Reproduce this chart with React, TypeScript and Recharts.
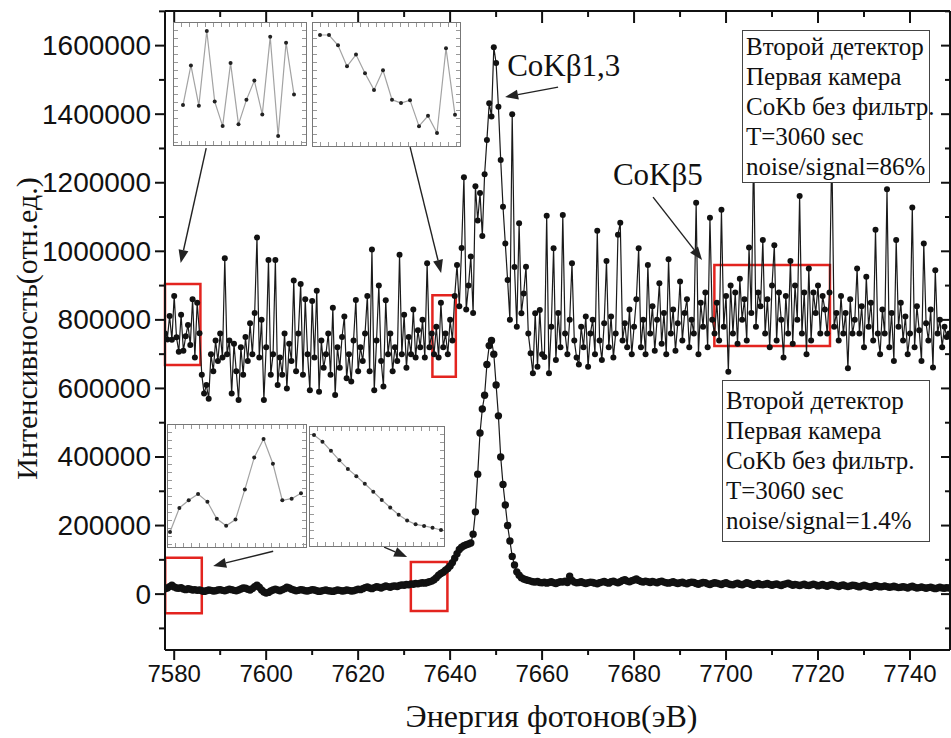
import React from "react"
import {
  LineChart,
  Line,
  XAxis,
  YAxis,
  ReferenceArea,
  ReferenceLine,
  ReferenceDot,
} from "recharts"

// energy grid of both spectra (eV)
const ENERGY_START = 7578
const ENERGY_STEP = 0.5

// upper spectrum, noise/signal = 86% (thousands of counts)
const NOISY_K = [
  760, 743, 811, 742, 870, 749, 707, 815, 710, 752, 785, 727, 860, 690, 850, 761, 640, 585, 610, 570,
  700, 650, 740, 680, 760, 690, 980, 700, 740, 585, 730, 650, 566, 720, 640, 750, 680, 790, 700, 820,
  1040, 690, 800, 566, 720, 975, 640, 700, 975, 610, 690, 640, 760, 600, 730, 680, 915, 650, 760, 905,
  640, 860, 700, 595, 855, 690, 885, 590, 740, 660, 700, 760, 640, 835, 581, 720, 660, 750, 810, 630,
  700, 620, 740, 858, 650, 720, 680, 760, 870, 650, 1005, 595, 740, 900, 680, 606, 857, 700, 760, 650,
  720, 680, 990, 700, 815, 660, 750, 700, 830, 690, 770, 720, 800, 690, 965, 720, 760, 700, 780, 690,
  850, 720, 760, 700, 800, 740, 870, 960, 840, 1010, 1216, 830, 900, 985, 820, 1190, 1090, 1170, 1045, 1225,
  1325, 1432, 1393, 1595, 1549, 1422, 1266, 1130, 1023, 916, 800, 1400, 954, 780, 1082, 819, 877, 955, 760, 703,
  644, 819, 663, 829, 700, 692, 1104, 644, 780, 1009, 683, 820, 720, 1106, 760, 700, 800, 965, 740, 690,
  670, 780, 720, 810, 663, 760, 800, 700, 1060, 740, 683, 790, 972, 720, 810, 690, 760, 1048, 1083, 740,
  790, 720, 830, 700, 780, 860, 1009, 720, 800, 700, 960, 760, 840, 710, 800, 907, 730, 820, 700, 977,
  760, 830, 710, 790, 912, 740, 820, 860, 720, 800, 760, 1142, 700, 850, 780, 880, 720, 1098, 800, 760,
  850, 740, 1121, 780, 870, 649, 900, 760, 880, 730, 920, 800, 860, 740, 1011, 820, 1300, 780, 880, 840,
  1033, 760, 860, 720, 900, 1018, 740, 880, 800, 690, 870, 760, 972, 730, 900, 800, 1161, 760, 880, 700,
  950, 740, 880, 820, 900, 760, 870, 830, 760, 880, 1300, 780, 820, 740, 870, 760, 820, 659, 860, 760,
  800, 950, 760, 840, 720, 926, 780, 850, 740, 1063, 760, 700, 830, 760, 1181, 720, 820, 680, 1033, 780,
  850, 740, 810, 700, 760, 1128, 720, 840, 770, 680, 1023, 790, 740, 830, 661, 945, 760, 800, 720, 780, 750, 760,
]

// lower spectrum, noise/signal = 1.4% (thousands of counts)
const CLEAN_K = [
  16, 18, 22, 26, 21, 18, 17, 19, 15, 13, 16, 14, 12, 13, 11, 12, 10, 8, 10, 12,
  11, 9, 10, 12, 13, 11, 10, 12, 14, 13, 11, 10, 12, 15, 18, 17, 14, 12, 16, 22,
  26, 20, 12, 6, 3, 5, 9, 12, 14, 12, 10, 13, 16, 20, 18, 14, 12, 10, 11, 13,
  12, 10, 9, 11, 13, 12, 10, 8, 9, 11, 12, 10, 9, 8, 10, 12, 11, 9, 10, 12,
  11, 9, 10, 12, 14, 13, 16, 19, 21, 18, 16, 19, 22, 20, 18, 21, 24, 22, 20, 23,
  24, 22, 25, 27, 26, 28, 27, 30, 29, 31, 30, 32, 33, 32, 34, 36, 38, 42, 48, 55,
  60, 64, 70, 75, 82, 92, 105, 118, 130, 137, 141, 144, 146, 149, 175, 240, 350, 470, 540, 580,
  670, 725, 740, 700, 610, 520, 400, 320, 260, 200, 155, 110, 85, 65, 55, 48, 44, 42, 40, 38,
  36, 35, 37, 34, 33, 35, 32, 34, 36, 33, 31, 34, 36, 35, 38, 34, 52, 40, 35, 33,
  34, 36, 33, 31, 33, 35, 34, 32, 30, 33, 35, 37, 34, 32, 36, 38, 35, 33, 36, 40,
  42, 38, 36, 39, 41, 44, 40, 37, 35, 38, 36, 34, 37, 35, 33, 36, 38, 35, 33, 32,
  34, 36, 33, 31, 33, 35, 32, 30, 33, 35, 34, 31, 29, 32, 34, 33, 30, 28, 31, 33,
  32, 30, 28, 31, 33, 30, 28, 27, 30, 32, 29, 27, 30, 33, 31, 28, 26, 29, 31, 28,
  27, 29, 31, 28, 26, 28, 30, 27, 25, 28, 30, 32, 29, 26, 28, 27, 25, 27, 29, 26,
  25, 27, 29, 27, 24, 26, 28, 25, 23, 26, 28, 26, 24, 22, 25, 27, 24, 22, 24, 26,
  25, 23, 21, 24, 26, 24, 22, 20, 23, 25, 23, 21, 22, 24, 22, 20, 21, 23, 21, 19,
  20, 22, 20, 18, 21, 23, 20, 18, 19, 21, 19, 17, 19, 20, 18, 16, 18, 20, 18, 17, 19, 18,
]

// zoomed insets
const INSET_NOISY_LEFT = [743, 811, 742, 870, 749, 707, 815, 710, 752, 785, 727, 860, 690, 850, 761]
const INSET_NOISY_RIGHT = [860, 860, 839, 796, 820, 782, 748, 788, 728, 721, 727, 674, 695, 660, 833, 697]
const INSET_CLEAN_LEFT = [14.0, 17.1, 18.1, 18.9, 17.9, 15.7, 14.8, 15.6, 19.5, 23.6, 26.0, 22.8, 18.1, 18.3, 19.0]
const INSET_CLEAN_RIGHT = [60.0, 57.9, 55.0, 52.0, 49.3, 47.0, 44.6, 42.1, 39.5, 37.1, 34.8, 33.0, 31.8, 31.3, 30.7, 30.0]

const X_TICKS = [7580, 7590, 7600, 7610, 7620, 7630, 7640, 7650, 7660, 7670, 7680, 7690, 7700, 7710, 7720, 7730, 7740]
const X_LABELS = [7580, 7600, 7620, 7640, 7660, 7680, 7700, 7720, 7740]
const Y_TICKS = [
  -100000, 0, 100000, 200000, 300000, 400000, 500000, 600000, 700000, 800000, 900000,
  1000000, 1100000, 1200000, 1300000, 1400000, 1500000, 1600000, 1700000,
]
const Y_LABELS = [0, 200000, 400000, 600000, 800000, 1000000, 1200000, 1400000, 1600000]

// red frames [e1, e2, v1, v2]
const BOXES = [
  [7578, 7585.7, 668000, 905000],
  [7636.15, 7641.24, 634000, 872000],
  [7697.46, 7722.6, 724000, 960000],
  [7578.05, 7586.0, -56000, 106000],
  [7631.46, 7639.41, -49000, 94000],
]

// arrows [from e, from v, to e, to v]
const ARROWS = [
  [7586.96, 1301000, 7581.41, 966000],
  [7631.3, 1304000, 7638.04, 937000],
  [7663.48, 1479000, 7651.96, 1450000],
  [7684.13, 1158000, 7694.78, 975000],
  [7601.52, 125000, 7588.48, 82000],
  [7625.65, 137000, 7630.65, 108000],
]

const PEAK_LABELS = [
  { e: 7652.4, v: 1511000, text: "CoKβ1,3" },
  { e: 7675.4, v: 1194000, text: "CoKβ5" },
]

const LEGEND_NOISY = ["Второй детектор", "Первая камера", "CoKb без фильтр.", "T=3060 sec", "noise/signal=86%"]
const LEGEND_CLEAN = ["Второй детектор", "Первая камера", "CoKb без фильтр.", "T=3060 sec", "noise/signal=1.4%"]

const data = NOISY_K.map((v, i) => ({
  e: ENERGY_START + i * ENERGY_STEP,
  noisy: v * 1000,
  clean: CLEAN_K[i] * 1000,
}))

const SANS = "'Liberation Sans', Arial, sans-serif"
const SERIF = "'Times New Roman', 'Liberation Serif', 'DejaVu Serif', serif"
const INK = "#111"

const BottomTick = ({ x, y, payload }: any) => {
  const major = X_LABELS.includes(payload.value)
  return (
    <g>
      <line x1={x} x2={x} y1={y} y2={y + (major ? 10 : 5)} stroke={INK} strokeWidth={2} />
      {major && (
        <text x={x} y={y + 32} textAnchor="middle" fontSize={24} fontFamily={SANS} fill={INK}>
          {payload.value}
        </text>
      )}
    </g>
  )
}

const TopTick = ({ x, y, payload }: any) => {
  const major = X_LABELS.includes(payload.value)
  return <line x1={x} x2={x} y1={y} y2={y + (major ? 12 : 6)} stroke={INK} strokeWidth={2} />
}

const LeftTick = ({ x, y, payload }: any) => {
  const major = Y_LABELS.includes(payload.value)
  return (
    <g>
      <line x1={x} x2={x - (major ? 10 : 6)} y1={y} y2={y} stroke={INK} strokeWidth={2} />
      {major && (
        <text x={x - 14} y={y} textAnchor="end" dominantBaseline="central" fontSize={28} fontFamily={SANS} fill={INK}>
          {payload.value}
        </text>
      )}
    </g>
  )
}

const RightTick = ({ x, y, payload }: any) => {
  const major = Y_LABELS.includes(payload.value)
  return <line x1={x} x2={x - (major ? 9 : 5)} y1={y} y2={y} stroke={INK} strokeWidth={2} />
}

const Arrow = (props: any) => {
  const { x1, y1, x2, y2 } = props
  const dx = x2 - x1
  const dy = y2 - y1
  const len = Math.hypot(dx, dy) || 1
  const ux = dx / len
  const uy = dy / len
  const hl = 13
  const hw = 5
  const bx = x2 - ux * hl
  const by = y2 - uy * hl
  return (
    <g>
      <line x1={x1} y1={y1} x2={bx} y2={by} stroke="#222" strokeWidth={1.4} />
      <polygon
        points={`${x2},${y2} ${bx - uy * hw},${by + ux * hw} ${bx + uy * hw},${by - ux * hw}`}
        fill="#222"
      />
    </g>
  )
}

// little inward tick marks along an inset frame
const tickStrip = (side: string) => {
  const horizontal = side === "top" || side === "bottom"
  return {
    position: "absolute" as const,
    [side]: 0,
    ...(horizontal ? { left: 0, right: 0, height: 4 } : { top: 0, bottom: 0, width: 4 }),
    background: `repeating-linear-gradient(${horizontal ? "to right" : "to bottom"}, transparent 0 7px, #999 7px 8px)`,
  }
}

const Inset = ({ values, left, top, width, height, pad }: any) => {
  const rows = values.map((v: number, i: number) => ({ i, v }))
  return (
    <div
      style={{
        position: "absolute",
        left,
        top,
        width,
        height,
        border: "1.5px solid #777",
        background: "#fff",
        boxSizing: "border-box",
      }}
    >
      {["top", "bottom", "left", "right"].map((s) => (
        <div key={s} style={tickStrip(s)} />
      ))}
      <div style={{ position: "absolute", left: 0, top: 0 }}>
        <LineChart width={width - 3} height={height - 3} data={rows} margin={{ top: 0, right: 0, bottom: 0, left: 0 }}>
          <XAxis dataKey="i" type="number" domain={["dataMin", "dataMax"]} padding={{ left: pad[0], right: pad[1] }} hide />
          <YAxis domain={["dataMin", "dataMax"]} padding={{ top: pad[2], bottom: pad[3] }} hide />
          <Line
            dataKey="v"
            stroke="#a3a3a3"
            strokeWidth={1.2}
            dot={{ r: 2, fill: "#222", stroke: "none" }}
            activeDot={false}
            isAnimationActive={false}
          />
        </LineChart>
      </div>
    </div>
  )
}

const LegendBox = ({ lines, left, top, width, height, padTop }: any) => (
  <div
    style={{
      position: "absolute",
      left,
      top,
      width,
      height,
      border: "1.5px solid #444",
      background: "#fff",
      boxSizing: "border-box",
      paddingTop: padTop,
      paddingLeft: 3,
      fontFamily: SERIF,
      fontSize: 25,
      lineHeight: "30px",
      color: INK,
      whiteSpace: "nowrap",
    }}
  >
    {lines.map((l: string) => (
      <div key={l}>{l}</div>
    ))}
  </div>
)

export default function App() {
  return (
    <div style={{ position: "absolute", left: 0, top: 0, width: 951, height: 738, background: "#fff" }}>
      <LineChart width={951} height={738} data={data} margin={{ top: 10, right: 0, bottom: 0, left: 0 }}>
        <XAxis
          dataKey="e"
          type="number"
          domain={[7578, 7748.7]}
          allowDataOverflow
          ticks={X_TICKS}
          interval={0}
          height={88}
          tickSize={0}
          tickMargin={0}
          tickLine={false}
          tick={<BottomTick />}
          axisLine={{ stroke: INK, strokeWidth: 2 }}
          label={(p: any) => (
            <text
              x={p.viewBox.x + p.viewBox.width / 2 - 6}
              y={p.viewBox.y + 66}
              textAnchor="middle"
              dominantBaseline="central"
              fontSize={32}
              fontFamily={SERIF}
              fill={INK}
            >
              Энергия фотонов(эВ)
            </text>
          )}
        />
        <XAxis
          xAxisId="top"
          dataKey="e"
          type="number"
          orientation="top"
          domain={[7578, 7748.7]}
          allowDataOverflow
          ticks={X_TICKS}
          interval={0}
          height={1}
          tickSize={0}
          tickMargin={0}
          tickLine={false}
          tick={<TopTick />}
          axisLine={{ stroke: INK, strokeWidth: 2 }}
        />
        <YAxis
          type="number"
          domain={[-163000, 1701000]}
          allowDataOverflow
          ticks={Y_TICKS}
          interval={0}
          width={165}
          tickSize={0}
          tickMargin={0}
          tickLine={false}
          tick={<LeftTick />}
          axisLine={{ stroke: INK, strokeWidth: 2 }}
          label={(p: any) => {
            const cx = p.viewBox.x + 26
            const cy = p.viewBox.y + p.viewBox.height / 2 - 2
            return (
              <text
                x={cx}
                y={cy}
                transform={`rotate(-90 ${cx} ${cy})`}
                textAnchor="middle"
                dominantBaseline="central"
                fontSize={30}
                fontFamily={SERIF}
                fill={INK}
              >
                Интенсивность(отн.ед.)
              </text>
            )
          }}
        />
        <YAxis
          yAxisId="right"
          orientation="right"
          type="number"
          domain={[-163000, 1701000]}
          allowDataOverflow
          ticks={Y_TICKS}
          interval={0}
          width={1}
          tickSize={0}
          tickMargin={0}
          tickLine={false}
          tick={<RightTick />}
          axisLine={{ stroke: INK, strokeWidth: 2 }}
        />

        <Line
          dataKey="noisy"
          stroke="#1a1a1a"
          strokeWidth={1.2}
          dot={{ r: 3, fill: INK, stroke: "none" }}
          activeDot={false}
          isAnimationActive={false}
        />
        <Line
          dataKey="clean"
          stroke="#1a1a1a"
          strokeWidth={1.2}
          dot={{ r: 3.7, fill: INK, stroke: "none" }}
          activeDot={false}
          isAnimationActive={false}
        />

        {BOXES.map(([x1, x2, y1, y2], i) => (
          <ReferenceArea
            key={`box-${i}`}
            x1={x1}
            x2={x2}
            y1={y1}
            y2={y2}
            fill="none"
            fillOpacity={0}
            stroke="#e3241f"
            strokeWidth={2.5}
            ifOverflow="visible"
          />
        ))}
        {ARROWS.map(([xa, ya, xb, yb], i) => (
          <ReferenceLine
            key={`arrow-${i}`}
            segment={[
              { x: xa, y: ya },
              { x: xb, y: yb },
            ]}
            ifOverflow="visible"
            shape={Arrow}
          />
        ))}
        {PEAK_LABELS.map((p) => (
          <ReferenceDot
            key={p.text}
            x={p.e}
            y={p.v}
            ifOverflow="visible"
            shape={(s: any) => (
              <text x={s.cx} y={s.cy} fontSize={31} fontFamily={SERIF} fill={INK}>
                {p.text}
              </text>
            )}
          />
        ))}
      </LineChart>

      <Inset values={INSET_NOISY_LEFT} left={173} top={22} width={134} height={124} pad={[9, 11, 8, 8]} />
      <Inset values={INSET_NOISY_RIGHT} left={312} top={22} width={149} height={125} pad={[7, 4, 12, 12]} />
      <Inset values={INSET_CLEAN_LEFT} left={167} top={424} width={140} height={124} pad={[2, 4, 14, 14]} />
      <Inset values={INSET_CLEAN_RIGHT} left={309} top={426} width={136} height={121} pad={[4, 2, 8, 15]} />

      <LegendBox lines={LEGEND_NOISY} left={742} top={30} width={188} height={153} padTop={1} />
      <LegendBox lines={LEGEND_CLEAN} left={722} top={380} width={208} height={162} padTop={5} />
    </div>
  )
}
